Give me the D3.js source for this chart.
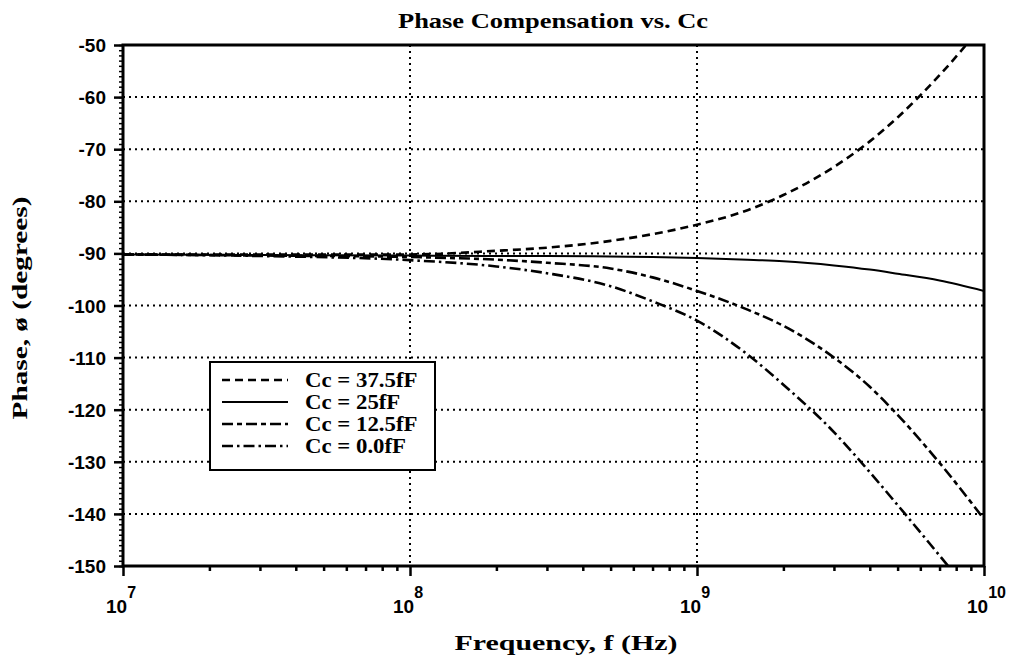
<!DOCTYPE html>
<html>
<head>
<meta charset="utf-8">
<script src="https://cdn.jsdelivr.net/npm/d3@7"></script>
<style>
  body { margin: 0; background: #fff; }
  .tick-label { font-family: "Liberation Sans", Arial, sans-serif; font-weight: bold; }
  .serif { font-family: "Liberation Serif", "Times New Roman", serif; font-weight: bold; }
</style>
</head>
<body>
<div id="chart"></div>
<script>
// frequencies (Hz) where the curves were read
const freqs = [1e7, 3e7, 1e8, 2e8, 3e8, 5e8, 7e8, 1e9, 1.5e9, 2e9, 3e9, 4e9, 5e9, 7e9, 1e10];

// phase in degrees for each Cc
const cc375 = [-90.2, -90.2, -90.2, -89.5, -88.9, -87.6, -86.3, -84.5, -81.7, -78.8, -73.4, -68.5, -63.9, -55.8, -45.9];
const cc25  = [-90.2, -90.3, -90.4, -90.5, -90.5, -90.6, -90.7, -90.9, -91.2, -91.5, -92.3, -93.1, -93.9, -95.2, -97.2];
const cc125 = [-90.2, -90.4, -90.7, -91.2, -91.8, -92.9, -94.6, -97.2, -100.8, -103.9, -110.0, -115.6, -121.0, -130.2, -141.0];
const cc0   = [-90.2, -90.5, -91.3, -92.5, -93.8, -96.3, -99.2, -102.9, -109.4, -115.2, -124.3, -132.0, -138.3, -148.0, -158.5];

const seriesNames = ['Cc = 37.5fF', 'Cc = 25fF', 'Cc = 12.5fF', 'Cc = 0.0fF'];
const seriesDash = ['8,5', null, '11,4,5,4', '11,4,2.5,4'];

const yMajor = [-150, -140, -130, -120, -110, -100, -90, -80, -70, -60, -50];
const xMajor = [1e7, 1e8, 1e9, 1e10];
const xExp = ['7', '8', '9', '10'];

const W = 1013, H = 655;
const pLeft = 123, pRight = 984, pTop = 45, pBottom = 566;

const svg = d3.select('#chart').append('svg').attr('width', W).attr('height', H);

const x = d3.scaleLog().domain([1e7, 1e10]).range([pLeft, pRight]);
const y = d3.scaleLinear().domain([-150, -50]).range([pBottom, pTop]);

// grid (dotted)
svg.append('g').selectAll('line').data(yMajor.slice(1, -1)).enter().append('line')
    .attr('x1', pLeft).attr('x2', pRight)
    .attr('y1', d => y(d)).attr('y2', d => y(d))
    .attr('stroke', '#000').attr('stroke-width', 2).attr('stroke-dasharray', '2,4');
svg.append('g').selectAll('line').data(xMajor.slice(1, -1)).enter().append('line')
    .attr('x1', d => x(d)).attr('x2', d => x(d))
    .attr('y1', pTop).attr('y2', pBottom)
    .attr('stroke', '#000').attr('stroke-width', 2).attr('stroke-dasharray', '2,4');

// minor ticks on y (every degree)
const yMinor = d3.range(-150, -49, 1);
svg.append('g').attr('transform', 'translate(' + pLeft + ',0)')
    .call(d3.axisLeft(y).tickValues(yMinor).tickSize(4).tickFormat(''))
    .call(g => g.select('.domain').remove())
    .selectAll('line').attr('stroke-width', 1.5);
svg.append('g').attr('transform', 'translate(' + pLeft + ',0)')
    .call(d3.axisLeft(y).tickValues(yMajor).tickSize(9).tickFormat(''))
    .call(g => g.select('.domain').remove())
    .selectAll('line').attr('stroke-width', 2.5);

// minor ticks on x
const xMinor = [];
[1e7, 1e8, 1e9].forEach(dec => { for (let k = 2; k < 10; k++) xMinor.push(dec * k); });
svg.append('g').attr('transform', 'translate(0,' + pBottom + ')')
    .call(d3.axisBottom(x).tickValues(xMinor).tickSize(5).tickFormat(''))
    .call(g => g.select('.domain').remove())
    .selectAll('line').attr('stroke-width', 2.5);
svg.append('g').attr('transform', 'translate(0,' + pBottom + ')')
    .call(d3.axisBottom(x).tickValues(xMajor).tickSize(10).tickFormat(''))
    .call(g => g.select('.domain').remove())
    .selectAll('line').attr('stroke-width', 2.5);

// curves
svg.append('clipPath').attr('id', 'plotClip').append('rect')
    .attr('x', pLeft).attr('y', pTop).attr('width', pRight - pLeft).attr('height', pBottom - pTop);

const line = d3.line().x(d => x(d[0])).y(d => y(d[1])).curve(d3.curveMonotoneX);
const allSeries = [cc375, cc25, cc125, cc0];
svg.append('g').attr('clip-path', 'url(#plotClip)').selectAll('path').data(allSeries).enter().append('path')
    .attr('d', vals => line(freqs.map((f, i) => [f, vals[i]])))
    .attr('fill', 'none').attr('stroke', '#000')
    .attr('stroke-width', (d, i) => i === 1 ? 2 : 2.6)
    .attr('stroke-dasharray', (d, i) => seriesDash[i]);

// frame
svg.append('rect').attr('x', pLeft).attr('y', pTop).attr('width', pRight - pLeft).attr('height', pBottom - pTop)
    .attr('fill', 'none').attr('stroke', '#000').attr('stroke-width', 3);

// y tick labels
svg.append('g').selectAll('text').data(yMajor).enter().append('text')
    .attr('class', 'tick-label')
    .attr('x', 106).attr('y', d => y(d) + 7)
    .attr('text-anchor', 'end').attr('font-size', 19)
    .text(d => d);

// x tick labels with superscript
const xl = svg.append('g').selectAll('text').data(xMajor).enter().append('text')
    .attr('class', 'tick-label')
    .attr('x', d => x(d) - 17).attr('y', 613)
    .attr('font-size', 19);
xl.append('tspan').text('10');
xl.append('tspan').attr('dy', -15).attr('font-size', 16).text((d, i) => xExp[i]);

// legend
const lg = svg.append('g');
lg.append('rect').attr('x', 210).attr('y', 362).attr('width', 225).attr('height', 108)
    .attr('fill', '#fff').attr('stroke', '#000').attr('stroke-width', 2);
const rows = lg.selectAll('g').data(seriesNames).enter().append('g')
    .attr('transform', (d, i) => 'translate(0,' + (380 + i * 22) + ')');
rows.append('line').attr('x1', 222).attr('x2', 288).attr('y1', 0).attr('y2', 0)
    .attr('stroke', '#000').attr('stroke-width', (d, i) => i === 1 ? 2 : 2.6)
    .attr('stroke-dasharray', (d, i) => seriesDash[i]);
rows.append('text').attr('class', 'serif').attr('x', 305).attr('y', 7)
    .attr('font-size', 20).text(d => d)
    .attr('textLength', function() { return this.getComputedTextLength() * 1.14; })
    .attr('lengthAdjust', 'spacingAndGlyphs');

// titles
svg.append('text').attr('class', 'serif').attr('x', 553).attr('y', 28)
    .attr('text-anchor', 'middle').attr('font-size', 22)
    .attr('textLength', 310).attr('lengthAdjust', 'spacingAndGlyphs')
    .text('Phase Compensation vs. Cc');
svg.append('text').attr('class', 'serif').attr('x', 566).attr('y', 650)
    .attr('text-anchor', 'middle').attr('font-size', 22)
    .attr('textLength', 223).attr('lengthAdjust', 'spacingAndGlyphs')
    .text('Frequency, f  (Hz)');
svg.append('text').attr('class', 'serif')
    .attr('transform', 'translate(27,308) rotate(-90)')
    .attr('text-anchor', 'middle').attr('font-size', 22)
    .attr('textLength', 223).attr('lengthAdjust', 'spacingAndGlyphs')
    .text('Phase, ø  (degrees)');
</script>
</body>
</html>
